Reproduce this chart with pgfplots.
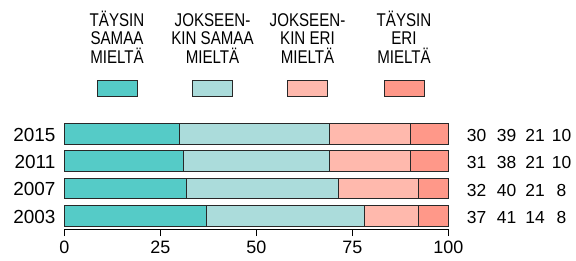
\documentclass[border=0pt]{standalone}
\usepackage{fontspec}
\setmainfont{Liberation Sans}
\newfontfamily\narrowfont{Liberation Sans}[FakeStretch=0.82]
\usepackage{pgfplots}
\usepackage{pgfplotstable}
\pgfplotsset{compat=1.18}
\definecolor{c1}{RGB}{85,203,199}
\definecolor{c2}{RGB}{171,220,219}
\definecolor{c3}{RGB}{255,185,173}
\definecolor{c4}{RGB}{255,152,137}
\definecolor{edge}{RGB}{40,40,40}
\newcommand{\fleg}{\narrowfont\fontsize{18.5}{18.5}\selectfont}
\newcommand{\fnum}{\fontsize{17.5}{17.5}\selectfont}
\newcommand{\ftick}{\fontsize{18}{18}\selectfont}
\newcommand{\fyear}{\fontsize{19}{19}\selectfont}

\pgfplotstableread{
y a b c d
0 37.1 41.0 14.1 7.8
1 31.8 39.6 20.8 7.8
2 31.0 38.1 21.0 9.9
3 30.0 39.1 21.0 9.9
}\data

\begin{document}
\begin{tikzpicture}
\path[use as bounding box] (-64.3bp,-31.65bp) rectangle (511.7bp,229.35bp);
\begin{axis}[at={(0,0)}, anchor=south west, scale only axis,
  width=384bp, height=109.2bp,
  xbar stacked, bar width=20.6bp,
  xmin=0, xmax=100, ymin=-0.5, ymax=3.5,
  axis x line*=bottom, axis y line*=left,
  y axis line style={draw=none},
  x axis line style={-, line width=0.9bp, black},
  xtick={0,25,50,75,100},
  ytick={0,1,2,3}, yticklabels={2003,2007,2011,2015},
  tick align=outside, major tick length=6.7bp,
  xtick style={line width=0.9bp, black},
  ytick style={draw=none},
  /pgf/number format/assume math mode=true,
  xticklabel style={font=\ftick, anchor=north, inner sep=0pt, yshift=-5bp},
  yticklabel style={font=\fyear, anchor=east, inner sep=0pt, xshift=-2bp, yshift=-1bp},
  clip=false,
  every axis plot/.append style={draw=edge, line width=0.9bp},
]
\addplot[fill=c1] table[x=a,y=y]{\data};
\addplot[fill=c2] table[x=b,y=y]{\data};
\addplot[fill=c3] table[x=c,y=y]{\data};
\addplot[fill=c4] table[x=d,y=y]{\data};
\end{axis}
% value columns
\foreach \row/\Y in {{30,39,21,10}/87.65, {31,38,21,10}/60.35, {32,40,21,8}/33.05, {37,41,14,8}/5.75}{
  \foreach \v [count=\i] in \row {
    \pgfmathsetmacro{\X}{{476.5,506.5,535.0,561.5}[\i-1]-64.3}
    \node[font=\fnum, anchor=base, inner sep=0pt] at (\X bp, \Y bp) {\v};
  }
}
% legend
\foreach \X/\col/\la/\lb/\lc in {52.7/c1/TÄYSIN/SAMAA/MIELTÄ, 148.2/c2/JOKSEEN-/KIN SAMAA/MIELTÄ, 243.2/c3/JOKSEEN-/KIN ERI/MIELTÄ, 339.7/c4/TÄYSIN/ERI/MIELTÄ}{
  \node[font=\fleg, anchor=base, inner sep=0pt] at (\X bp, 202.65bp) {\la};
  \node[font=\fleg, anchor=base, inner sep=0pt] at (\X bp, 184.35bp) {\lb};
  \node[font=\fleg, anchor=base, inner sep=0pt] at (\X bp, 166.05bp) {\lc};
  \draw[fill=\col, draw=edge, line width=0.9bp] (\X bp-20bp, 133.35bp) rectangle (\X bp+20bp, 149.35bp);
}
\end{tikzpicture}
\end{document}
